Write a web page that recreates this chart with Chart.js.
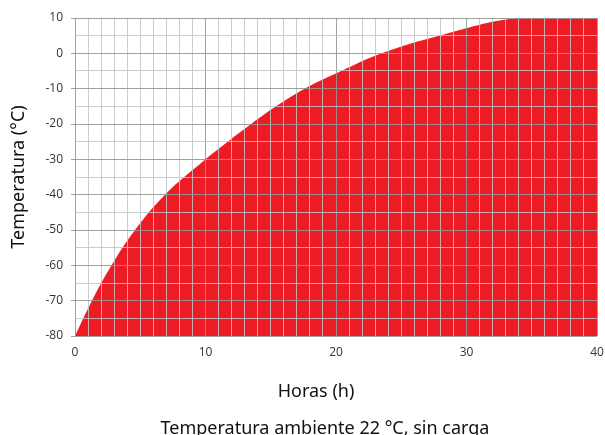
<!DOCTYPE html>
<html>
<head>
<meta charset="utf-8">
<script src="https://cdn.jsdelivr.net/npm/chart.js@4"></script>
<style>
    html, body { margin: 0; padding: 0; background: #fff; }
    #wrap { width: 605px; height: 435px; }
</style>
</head>
<body>
<div id="wrap"><canvas id="chart_curve"></canvas></div>
<script>
// hours vs temperature (°C)
const hours = [0, 1.3, 2.8, 4.6, 6.9, 10.0, 11.7, 13.5, 15.4, 17.6, 20.4, 23.5, 27.9, 33.9, 40];
const temps = [-80, -70, -60, -50, -40, -30, -25, -20, -15, -10, -5, 0, 5, 10, 10];

const x_title = 'Horas (h)';
const y_title = 'Temperatura (°C)';
const sub_title = 'Temperatura ambiente 22 °C, sin carga';

const red = 'rgb(237, 28, 36)';
const grid_minor = 'rgba(195, 195, 195, 0.85)';
const grid_major = 'rgba(150, 150, 150, 0.9)';

// the two lines under the plot are not centred on the plot area in the original
const bottom_labels = {
    id: 'bottom_labels',
    afterDraw(chart) {
        const ctx = chart.ctx;
        ctx.save();
        ctx.fillStyle = '#111';
        ctx.textAlign = 'center';
        ctx.textBaseline = 'alphabetic';
        ctx.font = '18px "Noto Sans"';
        ctx.fillText(x_title, 316, 397);
        ctx.fillText(sub_title, 325, 434);
        ctx.restore();
    }
};

function is_major(ctx, step) {
    return ctx.tick && Math.round(ctx.tick.value) % step === 0;
}

const curve_chart = new Chart(document.getElementById('chart_curve'), {
    type: 'line',
    data: {
        datasets: [{
            data: hours.map((h, i) => ({x: h, y: temps[i]})),
            borderWidth: 0,
            borderColor: red,
            backgroundColor: red,
            pointRadius: 0,
            tension: 0.4,
            fill: 'start',
        }]
    },
    options: {
        responsive: true,
        maintainAspectRatio: false,
        animation: false,
        layout: {
            padding: {top: 18, right: 0, bottom: 0, left: 0}
        },
        plugins: {
            legend: {display: false},
            tooltip: {enabled: false},
        },
        scales: {
            x: {
                type: 'linear',
                min: 0,
                max: 40,
                afterFit: (scale) => {
                    scale.height = 99;
                    scale.paddingLeft = 0;
                    scale.paddingRight = 8;
                },
                border: {display: false},
                grid: {
                    z: 1,
                    color: (ctx) => is_major(ctx, 10) ? grid_major : grid_minor,
                    lineWidth: 1,
                    drawTicks: false,
                },
                ticks: {
                    stepSize: 1,
                    autoSkip: false,
                    maxRotation: 0,
                    padding: 9,
                    color: '#333',
                    font: {family: '"Open Sans"', size: 12},
                    callback: (v) => (v % 10 === 0 ? v : ''),
                },
            },
            y: {
                min: -80,
                max: 10,
                afterFit: (scale) => { scale.width = 75; },
                border: {display: false},
                grid: {
                    z: 1,
                    color: (ctx) => is_major(ctx, 10) ? grid_major : grid_minor,
                    tickColor: (ctx) => is_major(ctx, 10) ? grid_major : 'rgba(0,0,0,0)',
                    tickLength: 4,
                    lineWidth: 1,
                },
                ticks: {
                    stepSize: 5,
                    autoSkip: false,
                    padding: 8,
                    color: '#333',
                    font: {family: '"Open Sans"', size: 12},
                    callback: (v) => (v % 10 === 0 ? v : ''),
                },
                title: {
                    display: true,
                    text: y_title,
                    color: '#111',
                    padding: {top: 8, bottom: 0},
                    font: {family: '"Noto Sans"', size: 18},
                },
            },
        },
    },
    plugins: [bottom_labels],
});
</script>
</body>
</html>
